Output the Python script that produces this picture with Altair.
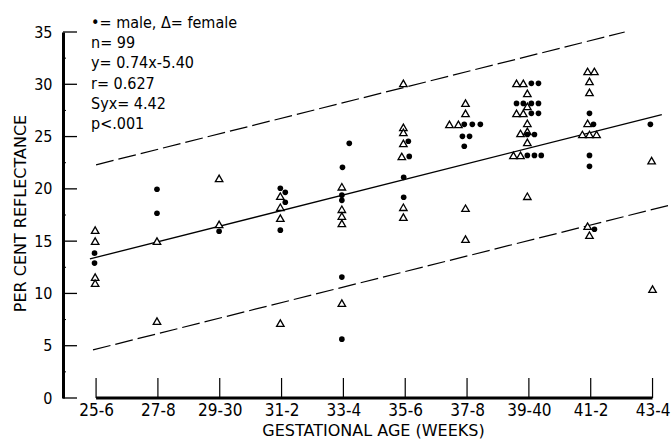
import json
import altair as alt
import pandas as pd

# ---------------- data ----------------
categories = ["25-6", "27-8", "29-30", "31-2", "33-4", "35-6", "37-8", "39-40", "41-2", "43-4"]
cat_weeks = [25.5, 27.5, 29.5, 31.5, 33.5, 35.5, 37.5, 39.5, 41.5, 43.5]

y_major_ticks = [0, 5, 10, 15, 20, 25, 30, 35]
y_minor_ticks = [2.5, 7.5, 12.5, 17.5, 22.5, 27.5, 32.5]

male_week = [25.45, 25.45,
             27.47, 27.47,
             29.48,
             31.46, 31.62, 31.62, 31.46,
             33.69, 33.47, 33.45, 33.45, 33.45, 33.45,
             35.60, 35.63, 35.45, 35.45,
             37.41, 37.67, 37.93, 37.35, 37.58, 37.41,
             39.58, 39.81, 39.10, 39.32, 39.58, 39.81, 39.58, 39.81, 39.45, 39.68, 39.45, 39.68, 39.90,
             41.46, 41.59, 41.46, 41.46, 41.62,
             43.43]
male_value = [13.85, 12.9,
              19.96, 17.67,
              15.95,
              20.06, 19.67, 18.72, 16.05,
              24.35, 22.06, 19.4, 18.9, 11.56, 5.63,
              24.55, 23.1, 21.1, 19.2,
              26.17, 26.17, 26.17, 25.02, 25.02, 24.07,
              30.09, 30.09, 28.17, 28.17, 28.17, 28.17, 27.22, 27.22, 25.2, 25.2, 23.2, 23.2, 23.2,
              27.22, 26.17, 23.2, 22.15, 16.14,
              26.17]

female_week = [25.47, 25.47, 25.47, 25.47,
               27.47, 27.47,
               29.48, 29.48,
               31.46, 31.46, 31.46, 31.46,
               33.45, 33.45, 33.45, 33.45, 33.45,
               35.44, 35.44, 35.44, 35.44, 35.39, 35.44, 35.44,
               37.45, 37.45, 36.93, 37.22, 37.45, 37.45,
               39.10, 39.32, 39.45, 39.45, 39.10, 39.32, 39.45, 39.23, 39.45, 39.45, 39.00, 39.23, 39.45,
               41.40, 41.62, 41.46, 41.46, 41.40, 41.23, 41.46, 41.69, 41.40, 41.46,
               43.47, 43.50]
female_value = [16.05, 15.0, 11.56, 10.98,
                15.0, 7.35,
                21.0, 16.6,
                19.3, 18.24, 17.2, 7.16,
                20.2, 18.05, 17.4, 16.7, 9.07,
                30.09, 25.88, 25.4, 24.35, 23.1, 18.24, 17.3,
                28.2, 27.22, 26.17, 26.17, 18.15, 15.19,
                30.09, 30.09, 29.13, 27.89, 27.22, 27.22, 26.27, 25.3, 25.5, 24.45, 23.2, 23.2, 19.29,
                31.23, 31.23, 30.28, 29.23, 26.27, 25.2, 25.2, 25.2, 16.43, 15.57,
                22.7, 10.41]

fit_week = [25.3, 43.8]
fit_value = [13.3, 27.1]
upper_week = [25.5, 42.6]
upper_value = [22.3, 35.0]
lower_week = [25.4, 44.0]
lower_value = [4.6, 18.4]

stats_lines = ["\u2022= male,  \u0394= female", "n= 99", "y= 0.74x-5.40",
               "r= 0.627", "Syx= 4.42", "p<.001"]

# ---------------- chart ----------------
W, H = 605, 366
NARROW = "Liberation Sans Narrow, Arial Narrow, DejaVu Sans Condensed, sans-serif"
TITLE_FONT = "DejaVu Sans"

xscale = alt.Scale(domain=[24.43, 44.0], nice=False, zero=False)
yscale = alt.Scale(domain=[0, 35], nice=False, zero=True)

label_expr = json.dumps(categories) + "[round((datum.value - 25.5) / 2)]"

xaxis = alt.Axis(values=cat_weeks, labelExpr=label_expr, domain=False, ticks=False,
                 tickSize=0, grid=False, labelFont=NARROW, labelFontSize=17,
                 labelPadding=4, labelColor="black", labelFlush=False, labelOverlap=False,
                 title="GESTATIONAL AGE (WEEKS)", titleFont=TITLE_FONT, titleFontSize=16,
                 titleFontWeight="normal", titleX=310, titleY=32, titleBaseline="middle",
                 titleAlign="center", titleColor="black")
yaxis = alt.Axis(values=y_major_ticks, domain=True, domainColor="black", domainWidth=3,
                 ticks=False, tickSize=0, grid=False, labelFont=NARROW, labelFontSize=16,
                 labelPadding=11, labelColor="black", labelFlush=False, format="d",
                 title="PER CENT REFLECTANCE", titleFont=TITLE_FONT, titleFontSize=16,
                 titleFontWeight="normal", titleX=-43, titleY=181, titleAngle=270,
                 titleBaseline="middle", titleAlign="center", titleColor="black")


def X():
    return alt.X("week:Q", scale=xscale, axis=xaxis)


def Y():
    return alt.Y("value:Q", scale=yscale, axis=yaxis)


males = pd.DataFrame({"week": male_week, "value": male_value})
females = pd.DataFrame({"week": female_week, "value": female_value})
fit = pd.DataFrame({"week": fit_week, "value": fit_value})
bands = pd.DataFrame({"week": upper_week + lower_week,
                      "value": upper_value + lower_value,
                      "band": ["upper"] * len(upper_week) + ["lower"] * len(lower_week)})

ytick_major = alt.Chart(pd.DataFrame({"value": y_major_ticks})).mark_rule(
    color="black", strokeWidth=1.3).encode(y=Y(), x=alt.value(0), x2=alt.value(14))
ytick_minor = alt.Chart(pd.DataFrame({"value": y_minor_ticks})).mark_rule(
    color="black", strokeWidth=1.0).encode(y=Y(), x=alt.value(0), x2=alt.value(3))

xdomain = alt.Chart(pd.DataFrame({"week": [cat_weeks[0]], "week2": [cat_weeks[-1]],
                                  "value": [0]})).mark_rule(
    color="black", strokeWidth=3).encode(x=X(), x2="week2:Q", y=Y())
xticks = alt.Chart(pd.DataFrame({"week": cat_weeks})).mark_rule(
    color="black", strokeWidth=1.2).encode(x=X(), y=alt.value(H), y2=alt.value(H - 20))

fit_line = alt.Chart(fit).mark_line(color="black", strokeWidth=1.3).encode(x=X(), y=Y())
band_lines = alt.Chart(bands).mark_line(color="black", strokeWidth=1.2,
                                        strokeDash=[18, 5]).encode(
    x=X(), y=Y(), detail="band:N")

female_pts = alt.Chart(females).mark_point(
    shape="triangle-up", filled=True, fill="white", stroke="black",
    strokeWidth=1.3, size=56, opacity=1).encode(x=X(), y=Y())
male_pts = alt.Chart(males).mark_circle(color="black", size=32, opacity=1).encode(
    x=X(), y=Y())

stat_layers = [
    alt.Chart(pd.DataFrame({"t": [line]})).mark_text(
        align="left", baseline="alphabetic", font=NARROW, fontSize=16,
        color="black").encode(x=alt.value(28), y=alt.value(-4 + 20.2 * i), text="t:N")
    for i, line in enumerate(stats_lines)
]

chart = alt.layer(
    ytick_major, ytick_minor, xdomain, xticks, fit_line, band_lines,
    female_pts, male_pts, *stat_layers
).properties(
    width=W, height=H,
    autosize=alt.AutoSizeParams(type="none"),
    padding={"left": 63, "top": 32, "right": 4, "bottom": 42},
    background="white",
).configure_view(stroke=None)

chart.save("out.html", embed_options={"renderer": "svg", "actions": False})
